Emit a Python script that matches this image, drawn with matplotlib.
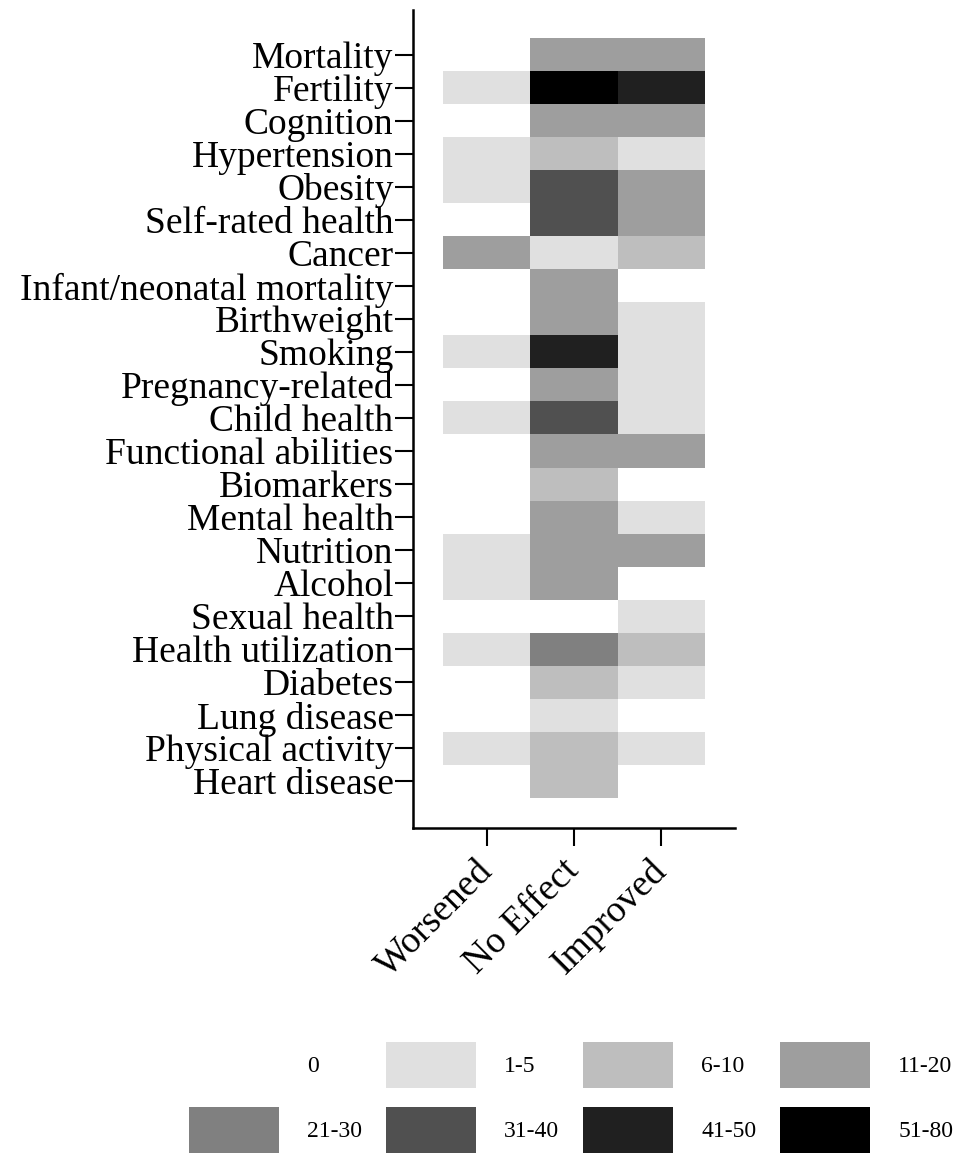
import matplotlib
matplotlib.use("Agg")
import matplotlib.pyplot as plt
import numpy as np
from matplotlib.colors import ListedColormap, BoundaryNorm
from matplotlib.patches import Patch

# ---- data ----
outcomes = ["Mortality", "Fertility", "Cognition", "Hypertension", "Obesity",
            "Self-rated health", "Cancer", "Infant/neonatal mortality",
            "Birthweight", "Smoking", "Pregnancy-related", "Child health",
            "Functional abilities", "Biomarkers", "Mental health", "Nutrition",
            "Alcohol", "Sexual health", "Health utilization", "Diabetes",
            "Lung disease", "Physical activity", "Heart disease"]
effects = ["Worsened", "No Effect", "Improved"]
bin_labels = ["0", "1-5", "6-10", "11-20", "21-30", "31-40", "41-50", "51-80"]
bin_colors = ["#ffffff", "#e0e0e0", "#bebebe", "#9e9e9e", "#808080",
              "#505050", "#202020", "#000000"]

# bin index (into bin_labels) of number of studies per outcome
worsened  = [0, 1, 0, 1, 1, 0, 3, 0, 0, 1, 0, 1, 0, 0, 0, 1, 1, 0, 1, 0, 0, 1, 0]
no_effect = [3, 7, 3, 2, 5, 5, 1, 3, 3, 6, 3, 5, 3, 2, 3, 3, 3, 0, 4, 2, 1, 2, 2]
improved  = [3, 6, 3, 1, 3, 3, 2, 0, 1, 1, 1, 1, 3, 0, 1, 3, 0, 1, 2, 1, 0, 1, 0]

grid = np.column_stack([worsened, no_effect, improved])

plt.rcParams['font.family'] = ['Liberation Serif', 'DejaVu Serif']

fig = plt.figure(figsize=(9.65, 11.55), dpi=100)
ax = fig.add_axes([413/965, 1-828/1155, (735-413)/965, (828-10)/1155])

cmap = ListedColormap(bin_colors)
norm = BoundaryNorm(np.arange(-0.5, len(bin_labels)), cmap.N)
ax.imshow(grid, cmap=cmap, norm=norm, aspect='auto', interpolation='nearest')

ax.set_xlim(-0.85, 2.85)
ax.set_ylim(23.42, -1.36)
ax.set_yticks(range(len(outcomes)))
ax.set_yticklabels(outcomes, fontsize=27)
ax.set_xticks(range(len(effects)))
ax.set_xticklabels(effects, fontsize=27, rotation=45, ha='right', va='center',
                   rotation_mode='anchor')
for s in ['top', 'right']:
    ax.spines[s].set_visible(False)
for s in ['left', 'bottom']:
    ax.spines[s].set_linewidth(1.8)
ax.tick_params(axis='both', length=13, width=1.5, pad=1)
ax.tick_params(axis='x', pad=14)

handles = [Patch(facecolor=c, edgecolor='none', label=l)
           for c, l in zip(bin_colors, bin_labels)]
order = [0, 4, 1, 5, 2, 6, 3, 7]
fig.legend([handles[i] for i in order], [bin_labels[i] for i in order],
           ncol=4, loc='lower left', bbox_to_anchor=(189/965, 2/1155),
           frameon=False, fontsize=17, borderpad=0, borderaxespad=0,
           handlelength=3.81, handleheight=2.62, handletextpad=1.2,
           columnspacing=1.0, labelspacing=0.8)

fig.savefig("out.png", dpi=100)
